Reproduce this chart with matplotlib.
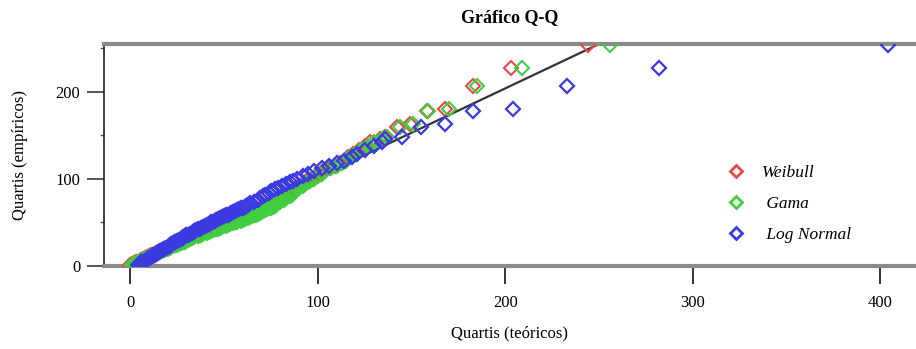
import matplotlib
matplotlib.use("Agg")
import matplotlib.pyplot as plt
from matplotlib.ticker import MultipleLocator

plt.rcParams["font.family"] = ["Liberation Serif", "DejaVu Serif"]

# quantis empíricos (ordenados)
empirical = [1, 2, 3, 4, 5, 6, 7, 8, 9, 10, 11, 12, 13, 14, 15, 16, 17, 18, 19, 20,
             21, 22, 23, 24, 25, 26, 27, 28, 29, 30, 31, 32, 33, 34, 35, 36, 37, 38, 39, 40,
             41, 42, 43, 44, 45, 46, 47, 48, 49, 50, 51, 52, 53, 54, 55, 56, 57, 58, 59, 60,
             61, 62, 63, 64, 65, 66, 67, 68, 69, 70,
             72, 74, 76, 78, 80, 82, 84, 86, 88, 90, 92, 94, 96, 98, 100,
             103, 106, 109, 112, 115, 118, 121, 125, 129, 133, 138, 142, 146, 148,
             160, 163, 178, 180, 207, 227, 254]

# quantis teóricos de cada distribuição
weibull = [0, 1, 2, 3, 4, 5, 6, 7, 8, 9, 10, 11, 12, 13, 14, 15, 16, 17, 18, 19,
           20, 21, 22, 24, 25, 26, 27, 28, 29, 30,
           31, 32, 33, 34, 36, 37, 38, 39, 40, 41, 43, 44, 45, 46, 48, 49, 50, 51, 53, 54,
           56, 57, 58, 60, 61, 62, 63, 64, 65, 66, 67, 68, 69, 70, 71, 72, 73, 74, 75, 76,
           77, 79, 80, 82, 83, 85, 86, 87, 88, 89, 90, 92, 93, 95, 97,
           99, 101, 103, 106, 109, 112, 114, 116, 119, 122, 125, 128, 133, 136,
           142, 149, 158, 168, 183, 203, 244]
gama = [1, 2, 3, 4, 5, 6, 7, 8, 9, 10, 11, 12, 13, 14, 15, 16, 17, 18, 19, 20,
        21, 22, 23, 25, 26, 27, 28, 29, 30, 31,
        32, 33, 34, 36, 37, 38, 39, 41, 42, 43, 44, 46, 47, 48, 49, 51, 52, 53, 55, 56,
        57, 59, 60, 61, 63, 64, 65, 66, 67, 68, 69, 70, 71, 72, 73, 74, 75, 76, 77, 78,
        79, 80, 82, 83, 85, 86, 87, 88, 89, 90, 92, 93, 95, 96, 98,
        100, 102, 104, 107, 110, 113, 115, 117, 120, 123, 127, 130, 134, 137,
        144, 151, 159, 170, 185, 209, 256]
lognormal = [4, 5, 6, 6, 7, 8, 9, 9, 10, 11, 12, 12, 13, 14, 15, 15, 16, 17, 18, 18,
             19, 20, 21, 21, 22, 23, 24, 24, 25, 26,
             27, 28, 28, 29, 30, 31, 32, 33, 34, 34, 35, 36, 37, 38, 39, 40, 41, 42, 43, 43,
             44, 45, 46, 47, 48, 49, 50, 51, 52, 53, 54, 55, 56, 57, 58, 59, 60, 61, 62, 63,
             64, 66, 68, 69, 71, 72, 74, 75, 77, 79, 81, 83, 85, 87, 89,
             92, 95, 98, 102, 106, 110, 114, 118, 121, 125, 130, 134, 136, 145,
             155, 168, 183, 204, 233, 282, 404]

# linha de referência
ref_x = [0, 250]
ref_y = [0, 255]


def main():
    fig = plt.figure(figsize=(9.16, 3.49), dpi=100)
    ax = fig.add_axes([0.1135, 0.238, 0.8865, 0.636])

    ax.plot(ref_x, ref_y, color="#333333", lw=1.6, zorder=2)
    ax.plot(weibull, empirical, ls="none", marker="D", ms=7, mfc="none",
            mec="#e8474a", mew=1.5, label="Weibull", zorder=3)
    ax.plot(gama, empirical, ls="none", marker="D", ms=7, mfc="none",
            mec="#3fcf3f", mew=1.5, label=" Gama", zorder=3)
    ax.plot(lognormal, empirical, ls="none", marker="D", ms=7, mfc="none",
            mec="#3a3ae0", mew=1.6, label=" Log Normal", zorder=4)

    ax.set_xlim(-14, 419)
    ax.set_ylim(0, 255)
    ax.set_xticks([0, 100, 200, 300, 400])
    ax.set_yticks([0, 100, 200])
    ax.yaxis.set_minor_locator(MultipleLocator(50))
    ax.tick_params(axis="x", direction="out", length=13, width=1.4, color="#333333",
                   labelsize=12, pad=8)
    ax.tick_params(axis="y", direction="out", length=12, width=1.4, color="#555555",
                   labelsize=12, pad=5)
    ax.tick_params(axis="y", which="minor", direction="out", length=3, width=1, color="#555555")

    for s in ["top", "bottom"]:
        ax.spines[s].set_color("#8a8a8a")
        ax.spines[s].set_linewidth(3)
    ax.spines["left"].set_color("#222222")
    ax.spines["left"].set_linewidth(1.2)
    ax.spines["right"].set_visible(False)

    ax.set_title("Gráfico Q-Q", fontsize=13, fontweight="bold", pad=16)
    ax.set_xlabel("Quartis (teóricos)", fontsize=12, labelpad=10)
    ax.set_ylabel("Quartis (empíricos)", fontsize=12, labelpad=20)

    leg = ax.legend(loc="center left", bbox_to_anchor=(0.738, 0.28), frameon=False,
                    prop={"style": "italic", "size": 12.5}, handletextpad=0.5,
                    labelspacing=0.85, markerscale=0.9)
    for h in leg.legend_handles:
        h.set_markeredgewidth(2)

    fig.savefig("out.png", dpi=100)


if __name__ == "__main__":
    main()
